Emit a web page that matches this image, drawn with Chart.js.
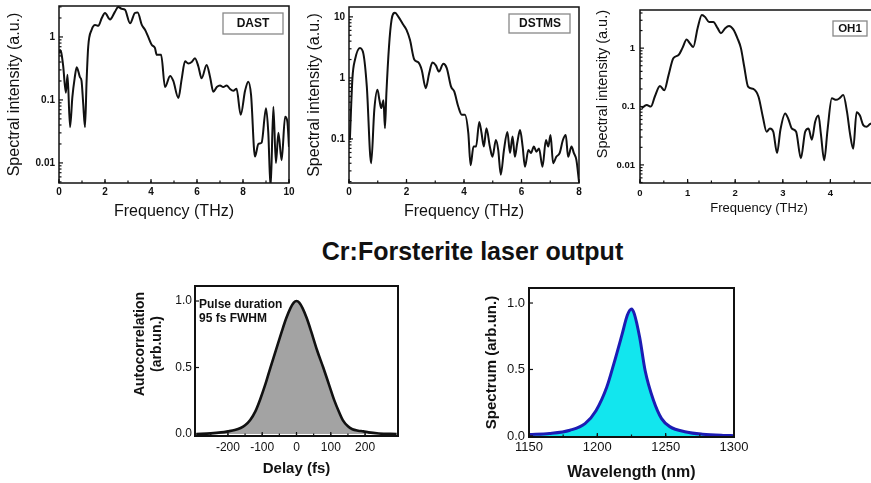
<!DOCTYPE html>
<html>
<head>
<meta charset="utf-8">
<script src="https://cdn.jsdelivr.net/npm/chart.js@4/dist/chart.umd.min.js"></script>
<style>
  html, body { margin: 0; padding: 0; background: #fff; }
  body { width: 871px; height: 483px; position: relative; overflow: hidden;
         font-family: "Liberation Sans", Arial, Helvetica, sans-serif; }
  canvas { position: absolute; }
  #heading { position: absolute; left: 0; width: 945px; top: 239px; text-align: center;
             font-weight: bold; font-size: 25px; line-height: 25px; color: #111; white-space: nowrap; }
</style>
</head>
<body>
<canvas id="dast"  width="300" height="228" style="left:0px;top:0px"></canvas>
<canvas id="dstms" width="290" height="228" style="left:300px;top:0px"></canvas>
<canvas id="oh1"   width="300" height="228" style="left:590px;top:0px"></canvas>
<div id="heading">Cr:Forsterite laser output</div>
<canvas id="acf"   width="290" height="200" style="left:130px;top:280px"></canvas>
<canvas id="spec"  width="290" height="204" style="left:460px;top:280px"></canvas>
<script>
const FAM = '"Liberation Sans", Arial, Helvetica, sans-serif';

// THz spectra generated in the three organic crystals
const dastFreq = [0.00,0.04,0.10,0.18,0.30,0.37,0.48,0.58,0.68,0.77,0.91,0.98,1.05,1.13,1.20,1.27,1.42,1.57,1.71,1.86,
  2.00,2.22,2.43,2.58,2.72,2.87,3.09,3.30,3.42,3.60,3.74,3.88,4.03,4.17,4.25,4.44,4.61,4.83,4.97,5.19,
  5.33,5.48,5.62,5.77,5.91,6.06,6.20,6.42,6.57,6.71,6.86,7.00,7.14,7.29,7.43,7.58,7.72,7.90,8.09,8.23,
  8.35,8.52,8.67,8.81,9.00,9.10,9.20,9.32,9.43,9.54,9.68,9.83,9.93,10.00];
const dastInt = [0.55,0.62,0.56,0.35,0.13,0.25,0.037,0.11,0.22,0.33,0.23,0.20,0.09,0.037,0.2,0.7,1.3,1.55,1.5,2.0,
  2.4,1.9,2.5,3.0,2.8,2.7,1.65,2.4,2.45,1.55,1.3,1.0,0.75,0.67,0.52,0.52,0.16,0.24,0.2,0.107,
  0.21,0.41,0.38,0.40,0.46,0.34,0.22,0.36,0.23,0.135,0.16,0.17,0.16,0.17,0.15,0.14,0.15,0.058,0.14,0.195,
  0.12,0.0126,0.02,0.021,0.074,0.03,0.004,0.078,0.01,0.03,0.011,0.054,0.045,0.018];

const dstmsFreq = [0.03,0.12,0.21,0.38,0.50,0.62,0.77,0.88,0.99,1.06,1.12,1.20,1.25,1.30,1.39,1.48,1.60,1.72,1.89,2.00,
  2.12,2.27,2.41,2.53,2.67,2.79,2.90,3.02,3.13,3.28,3.40,3.55,3.66,3.80,3.92,4.03,4.15,4.23,4.33,4.42,
  4.53,4.61,4.69,4.78,4.90,4.99,5.11,5.19,5.28,5.39,5.51,5.60,5.69,5.77,5.85,5.95,6.04,6.12,6.24,6.33,
  6.43,6.52,6.61,6.73,6.85,6.93,7.01,7.10,7.21,7.33,7.44,7.54,7.62,7.74,7.82,7.91,8.00];
const dstmsInt = [0.096,1.0,2.0,3.1,2.5,0.72,0.04,0.3,0.64,0.43,0.32,0.43,0.15,0.55,3.2,8.9,11.7,10,7.4,6.1,
  4.2,2.0,1.8,1.35,0.68,1.2,1.78,1.6,1.27,1.7,1.45,0.72,0.6,0.34,0.25,0.25,0.125,0.037,0.075,0.075,
  0.19,0.125,0.075,0.15,0.075,0.051,0.096,0.066,0.026,0.066,0.13,0.059,0.11,0.051,0.085,0.14,0.075,0.035,0.066,0.059,
  0.075,0.062,0.07,0.035,0.096,0.075,0.116,0.04,0.051,0.059,0.096,0.116,0.051,0.075,0.059,0.045,0.02];

const oh1Freq = [0.035,0.14,0.23,0.31,0.42,0.51,0.60,0.70,0.81,0.89,0.98,1.05,1.12,1.21,1.30,1.37,1.45,1.54,1.63,1.70,
  1.79,1.87,1.96,2.05,2.12,2.19,2.27,2.38,2.49,2.58,2.66,2.73,2.80,2.88,2.95,3.05,3.12,3.19,3.28,3.38,
  3.47,3.54,3.61,3.68,3.75,3.80,3.87,3.94,4.03,4.12,4.19,4.27,4.35,4.41,4.48,4.55,4.62,4.69,4.76,4.83,4.95];
const oh1Int = [0.093,0.106,0.10,0.147,0.224,0.19,0.345,0.67,0.76,1.0,1.4,1.2,1.05,2.2,3.7,3.4,2.8,2.8,2.2,1.8,
  2.2,2.4,2.1,1.46,1.0,0.48,0.22,0.2,0.147,0.067,0.037,0.042,0.037,0.016,0.04,0.076,0.06,0.042,0.037,0.013,
  0.037,0.042,0.027,0.055,0.07,0.034,0.012,0.04,0.138,0.13,0.138,0.157,0.08,0.035,0.019,0.08,0.07,0.048,0.045,0.05,0.055];

// Cr:Forsterite pump pulse
const delayFs = [-292,-250,-220,-200,-180,-163,-150,-135,-120,-106,-90,-76,-60,-43,-30,-18,-8,0,8,18,30,43,
  60,78,95,110,125,135,150,163,180,195,210,240,292];
const autocorr = [0.0,0.005,0.012,0.02,0.03,0.045,0.065,0.105,0.17,0.26,0.38,0.5,0.63,0.77,0.87,0.945,0.988,1.0,0.988,0.945,0.87,0.77,
  0.63,0.5,0.37,0.255,0.16,0.105,0.058,0.036,0.025,0.02,0.012,0.004,0.0];

const wavelengthNm = [1150,1165,1180,1191,1199,1207,1212,1218,1222,1225,1227,1231,1235,1241,1247,1253,1265,1277,1292,1300];
const spectrum = [0.01,0.018,0.043,0.093,0.19,0.37,0.54,0.76,0.91,0.955,0.92,0.74,0.49,0.27,0.13,0.07,0.03,0.013,0.004,0.002];

// tick labels
const dastXTicks = [0, 2, 4, 6, 8, 10];
const dastYTicks = [0.01, 0.1, 1];
const dstmsXTicks = [0, 2, 4, 6, 8];
const dstmsYTicks = [0.1, 1, 10];
const oh1XTicks = [0, 1, 2, 3, 4];
const oh1YTicks = [0.01, 0.1, 1];
const delayTicks = [-200, -100, 0, 100, 200];
const wavelengthTicks = [1150, 1200, 1250, 1300];
const unitTicks = [0, 0.5, 1];

// ---- helpers ----
function minorValues(scale, step) {
  const out = [];
  if (step === 'log') {
    const e0 = Math.floor(Math.log10(scale.min)), e1 = Math.ceil(Math.log10(scale.max));
    for (let e = e0; e <= e1; e++) {
      for (let m = 2; m <= 9; m++) {
        const v = m * Math.pow(10, e);
        if (v > scale.min && v < scale.max) out.push(v);
      }
    }
  } else if (step) {
    for (let v = Math.ceil(scale.min / step) * step; v <= scale.max + 1e-9; v += step) out.push(v);
  }
  return out;
}

// plot box with inward tick marks on the bottom and left edges
function framePlugin(f) {
  return {
    id: 'frame',
    afterDatasetsDraw(chart) {
      const { ctx, chartArea: a, scales } = chart;
      const xs = scales.x, ys = scales.y;
      ctx.save();
      ctx.strokeStyle = '#111';
      ctx.lineWidth = f.tickWidth;
      const mark = (x1, y1, x2, y2) => { ctx.beginPath(); ctx.moveTo(x1, y1); ctx.lineTo(x2, y2); ctx.stroke(); };
      minorValues(xs, f.xMinor).forEach(v => { const p = xs.getPixelForValue(v); mark(p, a.bottom, p, a.bottom - f.minor); });
      minorValues(ys, f.yMinor).forEach(v => { const p = ys.getPixelForValue(v); mark(a.left, p, a.left + f.minor, p); });
      xs.ticks.forEach(t => { const p = xs.getPixelForValue(t.value); mark(p, a.bottom, p, a.bottom - f.major); });
      ys.ticks.forEach(t => { const p = ys.getPixelForValue(t.value); mark(a.left, p, a.left + f.major, p); });
      ctx.lineWidth = f.width;
      ctx.strokeRect(a.left, a.top, a.right - a.left, a.bottom - a.top);
      ctx.restore();
    }
  };
}

// free text and framed sample labels
function notesPlugin(items) {
  return {
    id: 'notes',
    afterDraw(chart) {
      const ctx = chart.ctx;
      items.forEach(n => {
        ctx.save();
        if (n.box) {
          ctx.strokeStyle = '#888';
          ctx.lineWidth = 1.3;
          ctx.strokeRect(n.box[0], n.box[1], n.box[2], n.box[3]);
        }
        ctx.font = n.font;
        ctx.fillStyle = '#111';
        ctx.textAlign = n.align || 'center';
        ctx.textBaseline = 'middle';
        ctx.translate(n.x, n.y);
        if (n.rotate) ctx.rotate(n.rotate);
        ctx.fillText(n.text, 0, 0);
        ctx.restore();
      });
    }
  };
}

function axis(o) {
  return {
    type: o.type || 'linear',
    bounds: 'data',
    min: o.min,
    max: o.max,
    afterBuildTicks: s => { s.ticks = o.ticks.map(v => ({ value: v })); },
    afterFit: s => {
      if (o.width != null) s.width = o.width;
      if (o.height != null) s.height = o.height;
      s.paddingTop = 0; s.paddingBottom = 0; s.paddingLeft = 0; s.paddingRight = 0;
    },
    grid: { display: false, drawTicks: false },
    border: { display: false },
    ticks: { autoSkip: false, maxRotation: 0, minRotation: 0, padding: o.pad, color: '#111',
             font: o.tickFont, callback: o.fmt },
    title: o.title ? Object.assign({ display: true, color: '#111' }, o.title) : { display: false }
  };
}

function curve(xs, ys, color, width, fill) {
  return {
    data: xs.map((x, i) => ({ x: x, y: ys[i] })),
    borderColor: color,
    borderWidth: width,
    backgroundColor: fill || 'rgba(0,0,0,0)',
    fill: fill ? 'origin' : false,
    pointRadius: 0,
    cubicInterpolationMode: 'monotone',
    borderJoinStyle: 'round'
  };
}

function panel(id, o) {
  return new Chart(document.getElementById(id), {
    type: 'line',
    data: { datasets: [o.dataset] },
    options: {
      responsive: false, animation: false, devicePixelRatio: 1, events: [],
      layout: { padding: o.padding },
      plugins: { legend: { display: false }, tooltip: { enabled: false } },
      scales: { x: o.x, y: o.y }
    },
    plugins: [framePlugin(o.frame), notesPlugin(o.notes || [])]
  });
}

const fmtPlain = v => String(v);
const fmtOne = v => v.toFixed(1);
const topTick = { family: FAM, size: 10, weight: 'bold' };
const topFrame = { width: 1.5, tickWidth: 1.2, major: 4, minor: 2.5 };

// ---- DAST ----
panel('dast', {
  dataset: curve(dastFreq, dastInt, '#111', 2),
  padding: { left: 0, top: 6, right: 11, bottom: 0 },
  frame: Object.assign({ xMinor: 1, yMinor: 'log' }, topFrame),
  x: axis({ min: 0, max: 10, ticks: dastXTicks, height: 45, pad: 3, tickFont: topTick, fmt: fmtPlain,
            title: { text: 'Frequency (THz)', font: { family: FAM, size: 16 }, padding: { top: 0, bottom: 7 } } }),
  y: axis({ type: 'logarithmic', min: 0.0048, max: 3.1, ticks: dastYTicks, width: 59, pad: 4, tickFont: topTick, fmt: fmtPlain,
            title: { text: 'Spectral intensity (a.u.)', font: { family: FAM, size: 16 }, padding: { top: 5, bottom: 0 } } }),
  notes: [{ text: 'DAST', x: 253, y: 24, font: 'bold 12px ' + FAM, box: [223, 13, 60, 21] }]
});

// ---- DSTMS ----
panel('dstms', {
  dataset: curve(dstmsFreq, dstmsInt, '#111', 2),
  padding: { left: 0, top: 7, right: 11, bottom: 0 },
  frame: Object.assign({ xMinor: 1, yMinor: 'log' }, topFrame),
  x: axis({ min: 0, max: 8, ticks: dstmsXTicks, height: 45, pad: 3, tickFont: topTick, fmt: fmtPlain,
            title: { text: 'Frequency (THz)', font: { family: FAM, size: 16 }, padding: { top: 0, bottom: 7 } } }),
  y: axis({ type: 'logarithmic', min: 0.019, max: 14.5, ticks: dstmsYTicks, width: 49, pad: 4, tickFont: topTick, fmt: fmtPlain,
            title: { text: 'Spectral intensity (a.u.)', font: { family: FAM, size: 16 }, padding: { top: 5, bottom: 0 } } }),
  notes: [{ text: 'DSTMS', x: 240, y: 24, font: 'bold 12px ' + FAM, box: [209, 14, 61, 19] }]
});

// ---- OH1 ----
panel('oh1', {
  dataset: curve(oh1Freq, oh1Int, '#111', 2),
  padding: { left: 0, top: 10, right: 12, bottom: 0 },
  frame: Object.assign({ xMinor: 0.5, yMinor: 'log' }, topFrame),
  x: axis({ min: 0, max: 5, ticks: oh1XTicks, height: 45, pad: 5, tickFont: { family: FAM, size: 9.5, weight: 'bold' }, fmt: fmtPlain,
            title: { text: 'Frequency (THz)', font: { family: FAM, size: 13 }, padding: { top: 0, bottom: 12 } } }),
  y: axis({ type: 'logarithmic', min: 0.0049, max: 4.5, ticks: oh1YTicks, width: 50, pad: 5, tickFont: { family: FAM, size: 9.5, weight: 'bold' }, fmt: fmtPlain,
            title: { text: 'Spectral intensity (a.u.)', align: 'end', font: { family: FAM, size: 14.5 }, padding: { top: 4, bottom: 0 } } }),
  notes: [{ text: 'OH1', x: 260, y: 29, font: 'bold 11.5px ' + FAM, box: [243, 21, 34, 15] }]
});

// ---- autocorrelation ----
panel('acf', {
  dataset: curve(delayFs, autocorr, '#111', 2.6, '#a3a3a3'),
  padding: { left: 0, top: 6, right: 22, bottom: 0 },
  frame: { width: 2, tickWidth: 1.2, major: 4, minor: 2.5, xMinor: 50, yMinor: null },
  x: axis({ min: -296, max: 296, ticks: delayTicks, height: 44, pad: 4, tickFont: { family: FAM, size: 12 }, fmt: fmtPlain,
            title: { text: 'Delay (fs)', font: { family: FAM, size: 15, weight: 'bold' }, padding: { top: 0, bottom: 2 } } }),
  y: axis({ min: -0.015, max: 1.113, ticks: unitTicks, width: 65, pad: 3, tickFont: { family: FAM, size: 12 }, fmt: fmtOne }),
  notes: [
    { text: 'Autocorrelation', x: 10, y: 64, rotate: -Math.PI / 2, font: 'bold 14px ' + FAM },
    { text: '(arb.un.)', x: 27, y: 64, rotate: -Math.PI / 2, font: 'bold 14px ' + FAM },
    { text: 'Pulse duration', x: 69, y: 25, align: 'left', font: 'bold 12px ' + FAM },
    { text: '95 fs FWHM', x: 69, y: 39, align: 'left', font: 'bold 12px ' + FAM }
  ]
});

// ---- laser spectrum ----
panel('spec', {
  dataset: curve(wavelengthNm, spectrum, '#1c1cb4', 3, '#12e6ee'),
  padding: { left: 0, top: 8, right: 16, bottom: 0 },
  frame: { width: 2, tickWidth: 1.2, major: 4, minor: 2.5, xMinor: 25, yMinor: null },
  x: axis({ min: 1150, max: 1300, ticks: wavelengthTicks, height: 47, pad: 3, tickFont: { family: FAM, size: 13 }, fmt: fmtPlain,
            title: { text: 'Wavelength (nm)', font: { family: FAM, size: 16, weight: 'bold' }, padding: { top: 0, bottom: 2 } } }),
  y: axis({ min: -0.008, max: 1.113, ticks: unitTicks, width: 69, pad: 4, tickFont: { family: FAM, size: 13 }, fmt: fmtOne,
            title: { text: 'Spectrum (arb.un.)', font: { family: FAM, size: 15, weight: 'bold' }, padding: { top: 23, bottom: 0 } } })
});
</script>
</body>
</html>
